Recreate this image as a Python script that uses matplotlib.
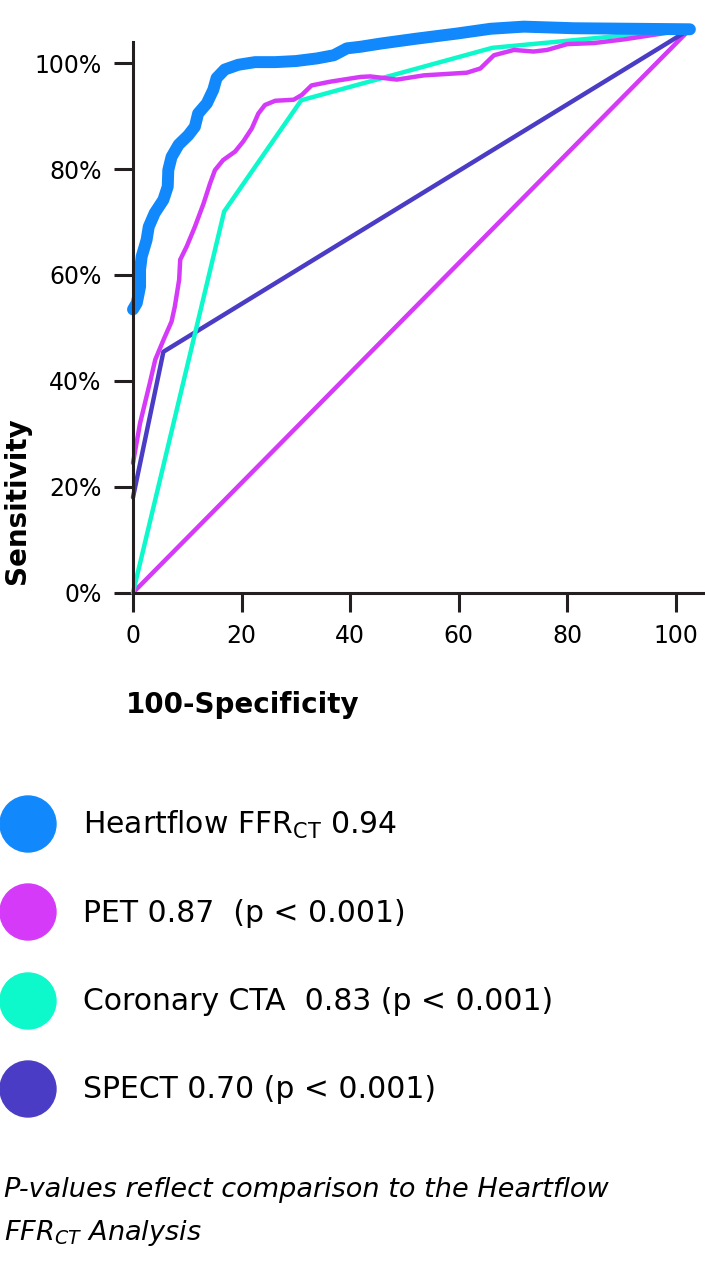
import matplotlib.pyplot as plt
from matplotlib.patches import Ellipse

# ROC curves (x = 100-specificity, y = sensitivity %)
ffr_x = [0, 0.7, 1.3, 1.3, 1.6, 2.5, 2.9, 4.0, 5.6, 6.4, 6.5, 7.1, 8.4, 10.2, 11.4, 12.0,
         13.6, 14.8, 15.4, 16.9, 19.4, 22.5, 26.2, 30.0, 33.9, 37.0, 39.4, 41.9, 45.6, 52.0,
         59.7, 65.9, 72.0, 81.2, 102.6]
ffr_y = [53.5, 54.7, 57.8, 61.0, 63.5, 66.6, 69.1, 71.7, 74.2, 76.7, 79.8, 82.3, 84.6, 86.4,
         88.0, 90.5, 92.4, 95.0, 97.2, 98.8, 99.7, 100.2, 100.2, 100.4, 100.9, 101.5, 102.8,
         103.1, 103.7, 104.6, 105.6, 106.5, 106.9, 106.6, 106.4]

pet_x = [0, 1.3, 3.1, 4.1, 5.6, 7.1, 7.7, 8.5, 8.7, 9.9, 11.4, 13.0, 14.2, 15.1, 16.6, 18.8,
         20.3, 21.9, 23.1, 24.3, 26.2, 29.6, 31.1, 32.9, 36.3, 41.9, 43.7, 48.6, 53.6, 61.5,
         64.0, 66.5, 70.2, 73.8, 76.3, 80.0, 84.9, 90.5, 102.6]
pet_y = [24.5, 32.0, 39.6, 44.0, 47.7, 51.2, 54.0, 59.1, 62.9, 65.4, 69.1, 73.5, 77.3, 79.8,
         81.7, 83.3, 85.2, 87.7, 90.5, 92.1, 92.9, 93.1, 94.0, 95.8, 96.5, 97.4, 97.5, 96.9,
         97.7, 98.2, 99.0, 101.5, 102.5, 102.2, 102.5, 103.6, 103.8, 104.5, 106.4]

cta_x = [0, 16.8, 31.0, 66.2, 102.6]
cta_y = [0, 72.0, 93.0, 102.9, 106.4]

spect_x = [0, 5.6, 102.6]
spect_y = [18.0, 45.5, 106.4]

ref_x = [0, 102.6]
ref_y = [0, 106.4]

x_ticks = [0, 20, 40, 60, 80, 100]
y_ticks = [0, 20, 40, 60, 80, 100]

labels = ["Heartflow FFR$_{CT}$ 0.94", "PET 0.87  (p < 0.001)",
          "Coronary CTA  0.83 (p < 0.001)", "SPECT 0.70 (p < 0.001)"]
colors = ["#1189FD", "#D63AF9", "#0DF8CB", "#4B3CC5"]

plt.rcParams['mathtext.default'] = 'regular'
dark = "#231F20"

fig = plt.figure(figsize=(7.05, 12.8), dpi=100)
ax = fig.add_axes([133 / 705, 1 - 592.7 / 1280, 571 / 705, 550.7 / 1280])

line_kw = dict(clip_on=False, solid_capstyle='round', solid_joinstyle='round')
ax.plot(ref_x, ref_y, color=colors[1], lw=3.2, zorder=2, **line_kw)
ax.plot(spect_x, spect_y, color=colors[3], lw=3.2, zorder=3, **line_kw)
ax.plot(cta_x, cta_y, color=colors[2], lw=3.2, zorder=3, **line_kw)
ax.plot(pet_x, pet_y, color=colors[1], lw=3.2, zorder=4, **line_kw)
ax.plot(ffr_x, ffr_y, color=colors[0], lw=8.6, zorder=5, **line_kw)

ax.set_xlim(0, 105.2)
ax.set_ylim(0, 104)
ax.set_xticks(x_ticks)
ax.set_yticks(y_ticks)
ax.set_yticklabels([f"{v}%" for v in y_ticks])
for s in ['top', 'right']:
    ax.spines[s].set_visible(False)
for s in ['left', 'bottom']:
    ax.spines[s].set_linewidth(2.2)
    ax.spines[s].set_color(dark)
    ax.spines[s].set_zorder(6)
ax.tick_params(direction='out', length=13.7, width=2.2, color=dark, labelcolor='black',
               labelsize=17, pad=9)

ax.set_xlabel("100-Specificity", weight='bold', fontsize=20)
ax.set_ylabel("Sensitivity", weight='bold', fontsize=20)
ax.xaxis.set_label_coords(110 / 571, -(691 - 592.7) / 550.7)
ax.yaxis.set_label_coords(-(133 - 31) / 571, (592.7 - 501) / 550.7)

# legend drawn in pixel coordinates
lg = fig.add_axes([0, 0, 1, 1])
lg.set_xlim(0, 705)
lg.set_ylim(1280, 0)
lg.axis('off')
lg.patch.set_alpha(0)
rows = [824, 912, 1001, 1089]
for yy, lab, col in zip(rows, labels, colors):
    lg.add_patch(Ellipse((28, yy), 56, 56, color=col))
    lg.text(83, yy + 1, lab, fontsize=21.5, va='center', ha='left')

lg.text(4, 1190, "P-values reflect comparison to the Heartflow", style='italic',
        fontsize=19.5, va='center', ha='left')
lg.text(4, 1233, "FFR$_{CT}$ Analysis", style='italic', fontsize=19.5, va='center', ha='left')

fig.savefig("out.png", dpi=100)
